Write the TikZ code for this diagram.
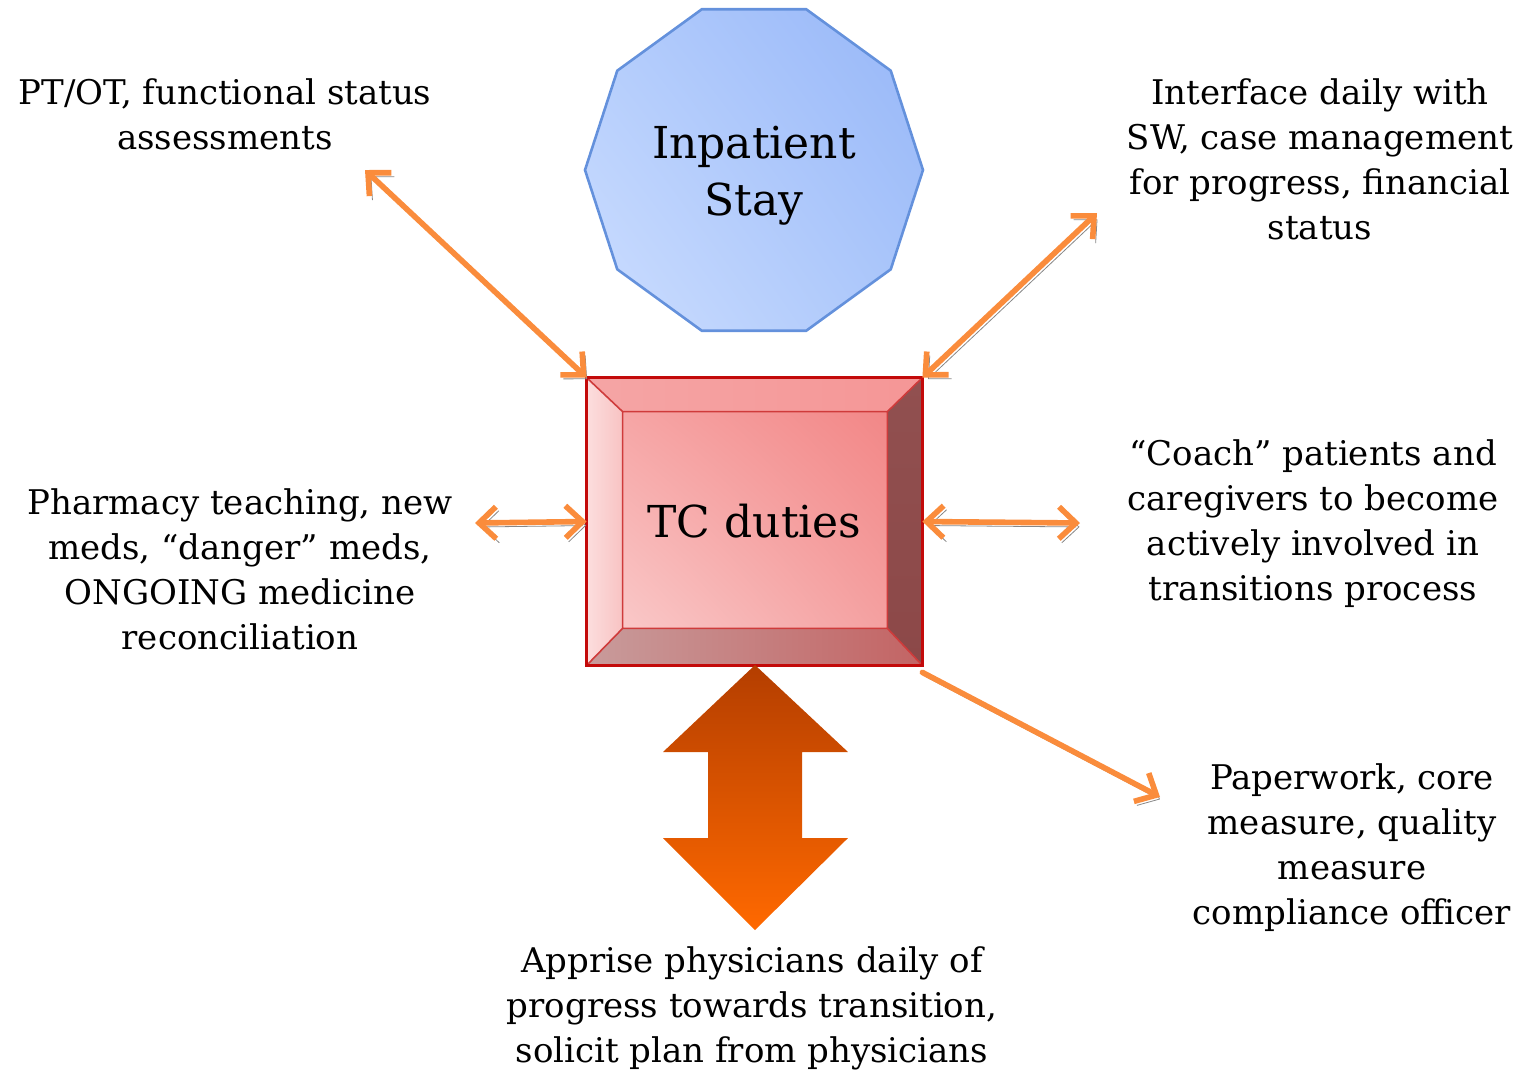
\documentclass[tikz,border=0pt]{standalone}
\usepackage{fontspec}
\setmainfont{DejaVu Serif}
\usetikzlibrary{shapes.geometric, arrows.meta, calc, shadings}

\definecolor{linkorange}{RGB}{250,140,60}
\definecolor{shadowgray}{RGB}{135,135,135}
\definecolor{boxred}{RGB}{195,10,10}
\definecolor{stayblue}{RGB}{100,145,220}
\definecolor{stayLL}{RGB}{205,222,255}
\definecolor{stayUL}{RGB}{180,205,252}
\definecolor{stayLR}{RGB}{170,198,250}
\definecolor{stayUR}{RGB}{150,182,248}
\definecolor{bevelLeftA}{RGB}{252,222,222}
\definecolor{bevelLeftB}{RGB}{248,195,195}
\definecolor{bevelTopA}{RGB}{245,165,165}
\definecolor{bevelTopB}{RGB}{245,150,150}
\definecolor{bevelRightA}{RGB}{145,80,80}
\definecolor{bevelRightB}{RGB}{140,72,72}
\definecolor{bevelBotA}{RGB}{200,155,155}
\definecolor{bevelBotB}{RGB}{195,100,100}
\definecolor{faceLL}{RGB}{250,200,200}
\definecolor{faceUL}{RGB}{246,165,165}
\definecolor{faceLR}{RGB}{244,160,160}
\definecolor{faceUR}{RGB}{242,135,135}
\definecolor{bigTop}{RGB}{180,62,0}
\definecolor{bigMid}{RGB}{225,85,0}
\definecolor{bigBot}{RGB}{255,105,0}

\begin{document}
\begin{tikzpicture}[
    x=0.5pt, y=-0.5pt,
    every node/.style={align=center, inner sep=0pt},
    duty text/.style={font=\fontsize{17}{22.5}\selectfont},
    big text/.style={font=\fontsize{22}{28.5}\selectfont},
    conn/.style={
        line width=2.8pt, draw=linkorange, line cap=round,
        preaction={draw=shadowgray, transform canvas={shift={(1.5pt,-2pt)}}}
    },
    both tips/.style={{Straight Barb[length=8.5pt,width=16pt]}-{Straight Barb[length=8.5pt,width=16pt]}},
    end tip/.style={-{Straight Barb[length=8.5pt,width=16pt]}},
]

  \useasboundingbox (0,0) rectangle (1521,1073);

  % the stay
  \node[regular polygon, regular polygon sides=10, minimum size=169pt,
        draw=stayblue, line width=1.3pt,
        shade, lower left=stayLL, upper left=stayUL,
        lower right=stayLR, upper right=stayUR] (stay) at (754,170) {};
  \node[big text] (staylabel) at ($(stay.center)+(0,6)$) {Inpatient\\Stay};

  % the duties box, bevelled
  \node[minimum width=167.5pt, minimum height=143.5pt] (duties) at (754.5,521.5) {};
  \coordinate (inNW) at ($(duties.north west)+(36,34)$);
  \coordinate (inNE) at ($(duties.north east)+(-35,34)$);
  \coordinate (inSW) at ($(duties.south west)+(36,-37)$);
  \coordinate (inSE) at ($(duties.south east)+(-35,-37)$);
  \shade[left color=bevelLeftA, right color=bevelLeftB]
    (duties.north west) -- (inNW) -- (inSW) -- (duties.south west) -- cycle;
  \shade[left color=bevelTopA, right color=bevelTopB]
    (duties.north west) -- (duties.north east) -- (inNE) -- (inNW) -- cycle;
  \shade[top color=bevelRightA, bottom color=bevelRightB]
    (duties.north east) -- (duties.south east) -- (inSE) -- (inNE) -- cycle;
  \shade[left color=bevelBotA, right color=bevelBotB]
    (duties.south west) -- (inSW) -- (inSE) -- (duties.south east) -- cycle;
  \shade[lower left=faceLL, upper left=faceUL, lower right=faceLR, upper right=faceUR]
    (inNW) rectangle (inSE);
  \draw[boxred!80, line width=0.8pt] (inNW) rectangle (inSE)
    (duties.north west) -- (inNW) (duties.north east) -- (inNE)
    (duties.south west) -- (inSW) (duties.south east) -- (inSE);
  \draw[boxred, line width=1.6pt] (duties.north west) rectangle (duties.south east);
  \node[big text] (dutylabel) at (duties.center) {TC duties};

  % the duties round it
  \node[duty text] (ptot) at (225,114.5) {PT/OT, functional status\\assessments};
  \node[duty text] (iface) at (1320,159.5) {Interface daily with\\SW, case management\\for progress, financial\\status};
  \node[duty text] (pharm) at (240,569.5) {Pharmacy teaching, new\\meds, “danger” meds,\\ONGOING medicine\\reconciliation};
  \node[duty text] (coach) at (1313,523.5) {“Coach” patients and\\caregivers to become\\actively involved in\\transitions process};
  \node[duty text] (paper) at (1352,847.5) {Paperwork, core\\measure, quality\\measure\\compliance officer};
  \node[duty text] (apprise) at (752,1008.5) {Apprise physicians daily of\\progress towards transition,\\solicit plan from physicians};

  % free ends of the connectors
  \coordinate (ptotEnd) at (365,170);
  \coordinate (ifaceEnd) at (1097,213);
  \coordinate (pharmEnd) at (475,523);
  \coordinate (coachEnd) at (1080,523);
  \coordinate (paperEnd) at (1160,797);
  \coordinate (paperStart) at ($(duties.south east)+(0,7)$);

  \draw[conn, both tips] (ptotEnd) -- (duties.north west);
  \draw[conn, both tips] (ifaceEnd) -- (duties.north east);
  \draw[conn, both tips] (pharmEnd) -- (duties.west);
  \draw[conn, both tips] (coachEnd) -- (duties.east);
  \draw[conn, end tip] (paperStart) -- (paperEnd);

  % big arrow down to the physicians
  \shade[top color=bigTop, middle color=bigMid, bottom color=bigBot]
    (755,665) -- (848,752) -- (802,752) -- (802,838) -- (848,838) -- (755,930)
    -- (663,838) -- (708,838) -- (708,752) -- (663,752) -- cycle;

\end{tikzpicture}
\end{document}
